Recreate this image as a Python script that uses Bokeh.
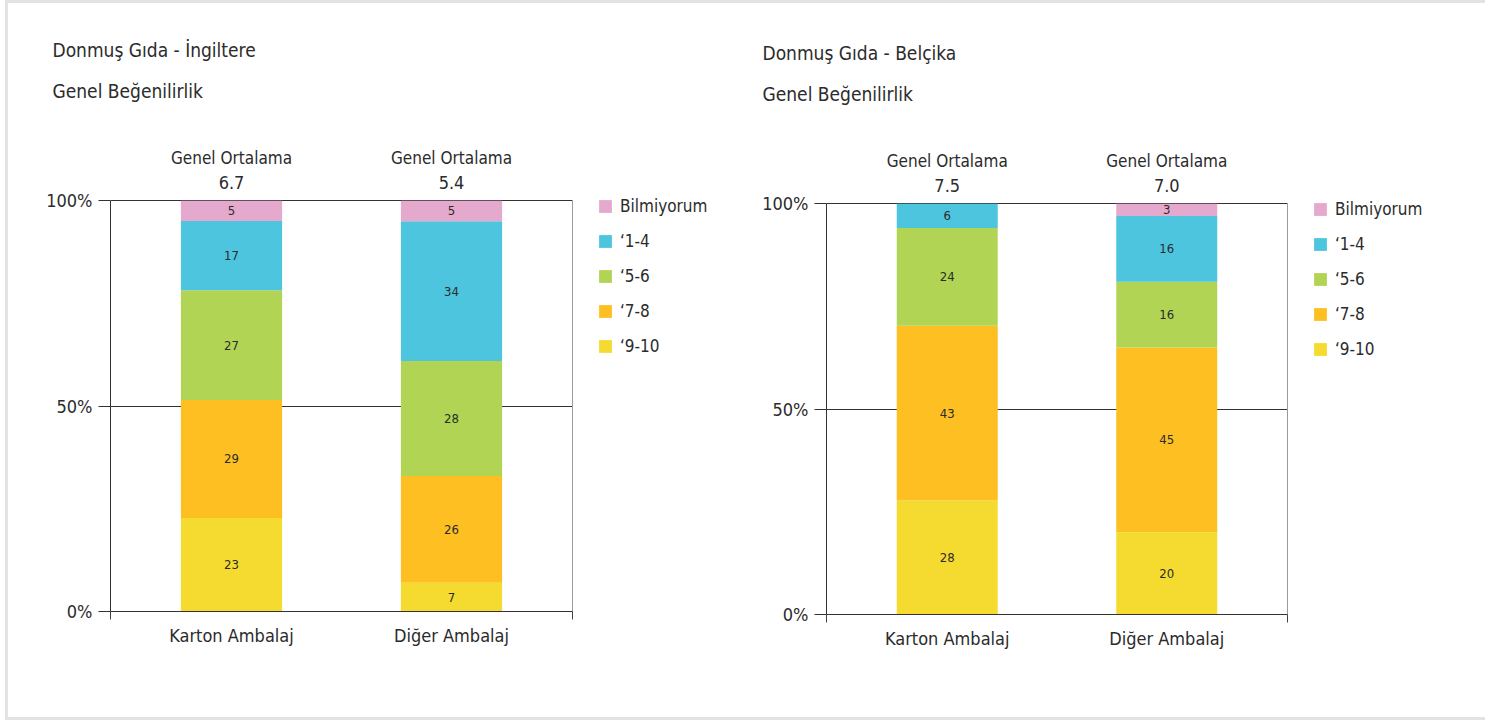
from bokeh.plotting import figure
from bokeh.layouts import row
from bokeh.models import (ColumnDataSource, FixedTicker, LinearAxis, Legend, LegendItem,
                          Title, PrintfTickFormatter, Range1d, Grid)
from bokeh.core.properties import value
from bokeh.embed import file_html
from bokeh.resources import INLINE

FONT = "DejaVu Sans Condensed"
TXT = "#2b2b2b"

# ---------------- data ----------------
packaging = ["Karton Ambalaj", "Diğer Ambalaj"]
series = ["‘9-10", "‘7-8", "‘5-6", "‘1-4", "Bilmiyorum"]          # bottom -> top
colors = ["#F5DB2F", "#FDBF21", "#B1D455", "#4DC5DE", "#E5A9CD"]
mean_caption = "Genel Ortalama"
y_ticks = [0, 50, 100]

uk_titles = ["Donmuş Gıda - İngiltere", "Genel Beğenilirlik"]
uk_means = ["6.7", "5.4"]
uk_9_10 = [23, 7]
uk_7_8 = [29, 26]
uk_5_6 = [27, 28]
uk_1_4 = [17, 34]
uk_dk = [5, 5]

be_titles = ["Donmuş Gıda - Belçika", "Genel Beğenilirlik"]
be_means = ["7.5", "7.0"]
be_9_10 = [28, 20]
be_7_8 = [43, 45]
be_5_6 = [24, 16]
be_1_4 = [6, 16]
be_dk = [0, 3]


def make_chart(titles, means, stacks, plot_w, extra_w, b_left, title_offset, top_margin):
    n = len(packaging)
    xs = [i + 0.5 for i in range(n)]
    totals = [sum(s[i] for s in stacks) for i in range(n)]
    top_val = y_ticks[-1]
    x_lo, x_hi = -0.05, n + 0.05
    x_end = x_hi + extra_w * (x_hi - x_lo) / plot_w   # room for the legend

    p = figure(frame_width=plot_w + extra_w, frame_height=493,
               min_border_left=b_left, min_border_right=0,
               min_border_top=115, min_border_bottom=106 - top_margin,
               x_range=Range1d(x_lo, x_end), y_range=Range1d(0, top_val * 1.2),
               output_backend="svg", toolbar_location=None,
               outline_line_color=None, background_fill_color="white",
               border_fill_color="white", x_axis_type=None, y_axis_type=None,
               margin=(top_margin, 0, 0, 0))
    p.title.visible = False

    p.xgrid.visible = False
    p.ygrid.visible = False
    g = Grid(dimension=1, ticker=FixedTicker(ticks=y_ticks[1:]),
             grid_line_color="#333333", cross_bounds=(x_lo, x_hi))
    p.add_layout(g)

    # stacked bars
    renderers = []
    cum = [0.0] * n
    lab_x, lab_y, lab_t = [], [], []
    for j, s in enumerate(stacks):
        bottoms = [cum[i] for i in range(n)]
        tops = [cum[i] + s[i] * top_val / totals[i] for i in range(n)]
        src = ColumnDataSource(dict(x=xs, bottom=bottoms, top=tops))
        r = p.vbar(x="x", bottom="bottom", top="top", width=0.46, source=src,
                   fill_color=colors[j], line_color=None)
        renderers.append(r)
        for i in range(n):
            if s[i] > 0:
                lab_x.append(xs[i])
                lab_y.append((bottoms[i] + tops[i]) / 2)
                lab_t.append(str(s[i]))
        cum = tops

    p.text(x=lab_x, y=lab_y, text=lab_t, text_align="center", text_baseline="middle",
           text_font=value(FONT), text_font_size="13px", text_color=TXT)

    # right border line of the plot area
    p.segment(x0=[x_hi], x1=[x_hi], y0=[0], y1=[top_val], line_color="#9a9a9a", line_width=1)

    # mean labels above bars
    p.text(x=xs, y=[top_val] * n, text=[mean_caption] * n, y_offset=-43,
           text_align="center", text_baseline="middle",
           text_font=value(FONT), text_font_size="17px", text_color=TXT)
    p.text(x=xs, y=[top_val] * n, text=means, y_offset=-18,
           text_align="center", text_baseline="middle",
           text_font=value(FONT), text_font_size="18px", text_color=TXT)

    # axes
    yax = LinearAxis(ticker=FixedTicker(ticks=y_ticks), bounds=(0, top_val),
                     formatter=PrintfTickFormatter(format="%d%%"),
                     major_tick_out=12, major_tick_in=0, minor_tick_line_color=None,
                     axis_line_color="#333333", major_tick_line_color="#333333",
                     major_label_text_font=FONT, major_label_text_font_size="18px",
                     major_label_text_color=TXT, major_label_standoff=6)
    p.add_layout(yax, "left")

    xax = LinearAxis(ticker=FixedTicker(ticks=xs, minor_ticks=[x_lo, x_hi]),
                     bounds=(x_lo, x_hi),
                     major_label_overrides={xs[i]: packaging[i] for i in range(n)},
                     major_tick_line_color=None, minor_tick_out=8, minor_tick_in=0,
                     minor_tick_line_color="#444444", axis_line_color="#333333",
                     major_label_text_font=FONT, major_label_text_font_size="18px",
                     major_label_text_color=TXT, major_label_standoff=5)
    p.add_layout(xax, "below")

    legend = Legend(items=[LegendItem(label=series[j], renderers=[renderers[j]])
                           for j in reversed(range(len(series)))],
                    location=(plot_w + 25, 255), glyph_width=16, glyph_height=16,
                    label_height=16, label_standoff=7, spacing=15, padding=0, margin=0,
                    border_line_color=None, background_fill_alpha=0,
                    label_text_font=FONT, label_text_font_size="17px",
                    label_text_color=TXT)
    p.add_layout(legend, "center")

    t2 = Title(text=titles[1], align="left", offset=title_offset, standoff=34,
               text_font=FONT, text_font_size="19px", text_font_style="normal",
               text_color=TXT)
    p.add_layout(t2, "above")
    t1 = Title(text=titles[0], align="left", offset=title_offset, standoff=0,
               text_font=FONT, text_font_size="19px", text_font_style="normal",
               text_color=TXT)
    p.add_layout(t1, "above")
    return p


uk = make_chart(uk_titles, uk_means, [uk_9_10, uk_7_8, uk_5_6, uk_1_4, uk_dk],
                462, 172, 102, -58, 0)
be = make_chart(be_titles, be_means, [be_9_10, be_7_8, be_5_6, be_1_4, be_dk],
                461, 198, 82, -64, 3)

layout = row(uk, be, styles={"border-left": "3px solid #e3e3e3",
                             "border-top": "3px solid #e3e3e3",
                             "border-bottom": "3px solid #e3e3e3",
                             "margin-left": "5px"})

open("out.html", "w").write(file_html(layout, INLINE))
